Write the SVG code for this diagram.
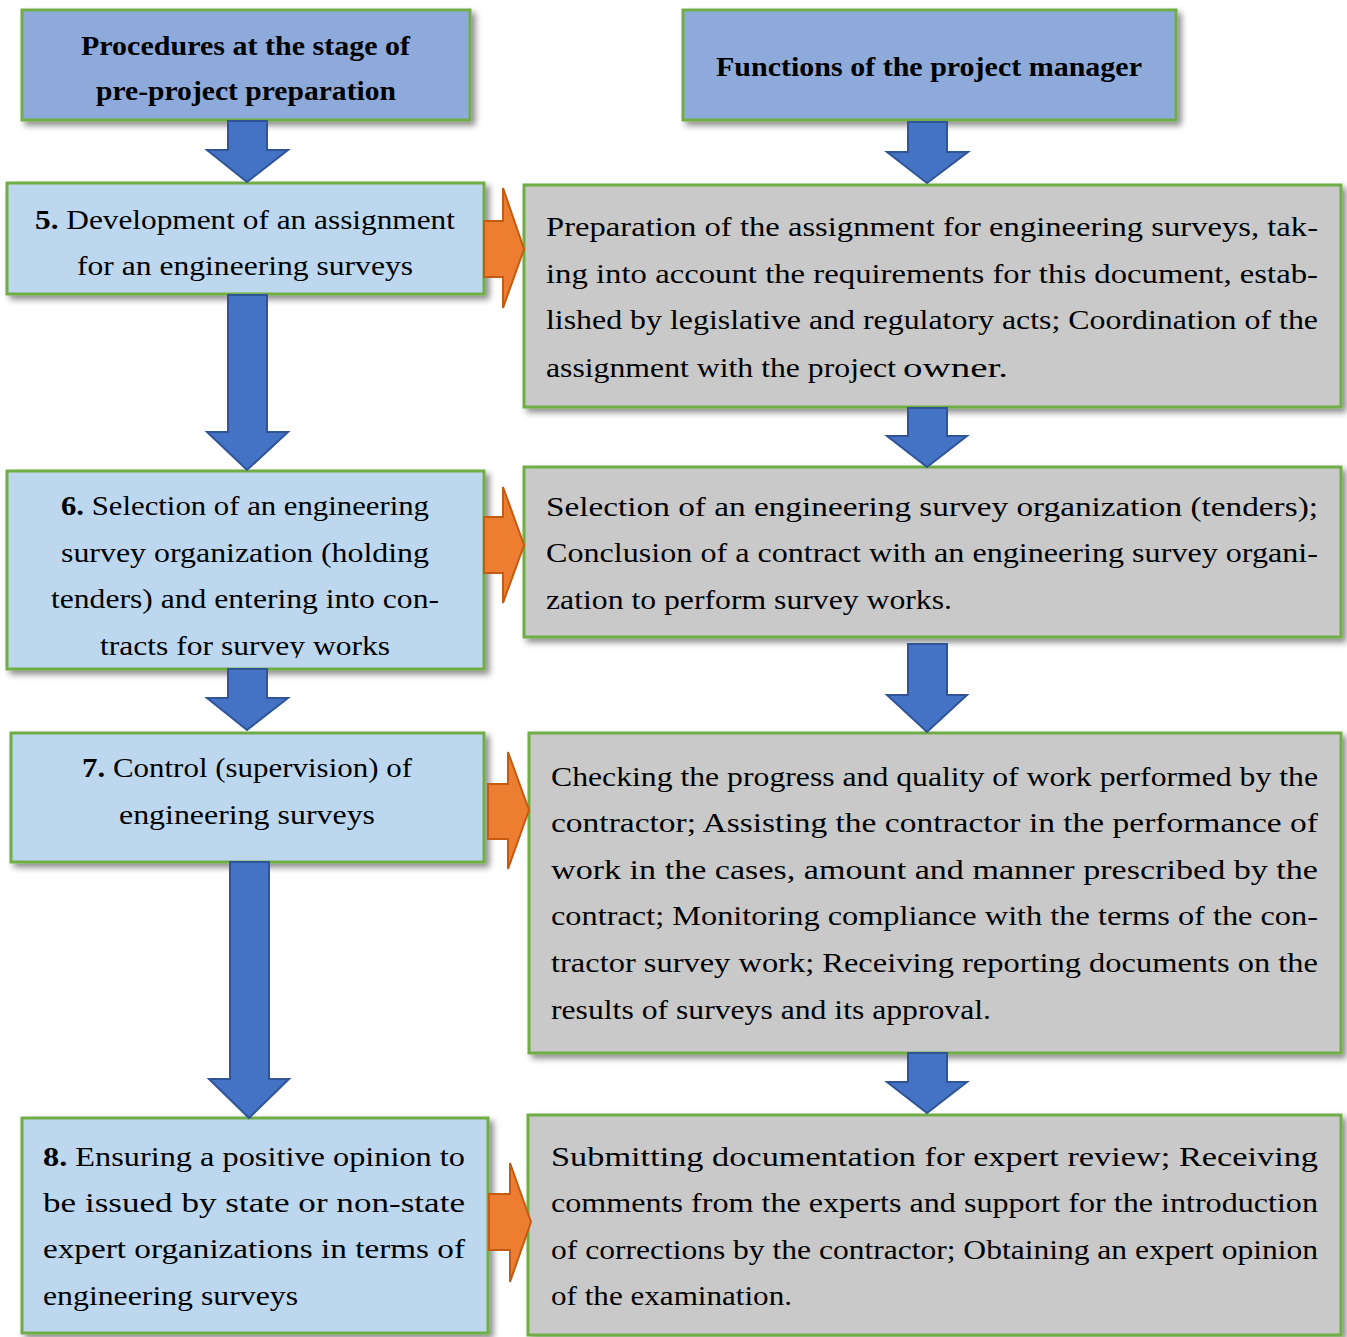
<svg xmlns="http://www.w3.org/2000/svg" width="1347" height="1337" viewBox="0 0 1347 1337">
<defs>
<filter id="sh" x="-5%" y="-5%" width="115%" height="120%">
<feDropShadow dx="4" dy="4" stdDeviation="3" flood-color="#000" flood-opacity="0.45"/>
</filter>
<clipPath id="clip6"><rect x="7" y="471" width="477" height="187"/></clipPath>
</defs>
<style>
.hdr{fill:#8eaadb;stroke:#70ad47;stroke-width:3}
.lb{fill:#bdd7ee;stroke:#70ad47;stroke-width:3}
.gb{fill:#c9c9c9;stroke:#70ad47;stroke-width:3}
.ba{fill:#4472c4;stroke:#2f5597;stroke-width:2;stroke-linejoin:miter}
.oa{fill:#ed7d31;stroke:#c55a11;stroke-width:2;stroke-linejoin:miter}
text{font-family:"Liberation Serif","Times New Roman",serif;font-size:27px;fill:#000}
.h{font-weight:bold;font-size:27px}
.b{font-weight:bold}
</style>
<rect width="1347" height="1337" fill="#fff"/>

<g id="node-header-left">
<rect class="hdr" x="22" y="10" width="448" height="110" filter="url(#sh)"/>
<text class="h" x="81" y="55" textLength="329" lengthAdjust="spacingAndGlyphs">Procedures at the stage of</text>
<text class="h" x="96" y="100" textLength="300" lengthAdjust="spacingAndGlyphs">pre-project preparation</text>
</g>
<g id="node-header-right">
<rect class="hdr" x="683" y="10" width="493" height="110" filter="url(#sh)"/>
<text class="h" x="716" y="76" textLength="426" lengthAdjust="spacingAndGlyphs">Functions of the project manager</text>
</g>

<g id="node-5">
<rect class="lb" x="7" y="183" width="477" height="111" filter="url(#sh)"/>
<text x="35" y="229" textLength="420" lengthAdjust="spacingAndGlyphs"><tspan class="b">5.</tspan> Development of an assignment</text>
<text x="77" y="275" textLength="336" lengthAdjust="spacingAndGlyphs">for an engineering surveys</text>
</g>
<g id="node-6">
<rect class="lb" x="7" y="471" width="477" height="198" filter="url(#sh)"/>
<g clip-path="url(#clip6)">
<text x="61" y="515" textLength="368" lengthAdjust="spacingAndGlyphs"><tspan class="b">6.</tspan> Selection of an engineering</text>
<text x="61" y="562" textLength="368" lengthAdjust="spacingAndGlyphs">survey organization (holding</text>
<text x="51" y="608" textLength="388" lengthAdjust="spacingAndGlyphs">tenders) and entering into con-</text>
<text x="100" y="655" textLength="290" lengthAdjust="spacingAndGlyphs">tracts for survey works</text>
</g>
</g>
<g id="node-7">
<rect class="lb" x="11" y="733" width="473" height="129" filter="url(#sh)"/>
<text x="82" y="777" textLength="330" lengthAdjust="spacingAndGlyphs"><tspan class="b">7.</tspan> Control (supervision) of</text>
<text x="119" y="824" textLength="256" lengthAdjust="spacingAndGlyphs">engineering surveys</text>
</g>
<g id="node-8">
<rect class="lb" x="22" y="1118" width="466" height="215" filter="url(#sh)"/>
<text x="43" y="1166" textLength="422" lengthAdjust="spacingAndGlyphs"><tspan class="b">8.</tspan> Ensuring a positive opinion to</text>
<text x="43" y="1212" textLength="422" lengthAdjust="spacingAndGlyphs">be issued by state or non-state</text>
<text x="43" y="1258" textLength="422" lengthAdjust="spacingAndGlyphs">expert organizations in terms of</text>
<text x="43" y="1305" textLength="255" lengthAdjust="spacingAndGlyphs">engineering surveys</text>
</g>

<g id="node-r1">
<rect class="gb" x="524" y="185" width="817" height="222" filter="url(#sh)"/>
<text x="546" y="236" textLength="772" lengthAdjust="spacingAndGlyphs">Preparation of the assignment for engineering surveys, tak-</text>
<text x="546" y="283" textLength="772" lengthAdjust="spacingAndGlyphs">ing into account the requirements for this document, estab-</text>
<text x="546" y="329" textLength="772" lengthAdjust="spacingAndGlyphs">lished by legislative and regulatory acts; Coordination of the</text>
<text x="546" y="377" textLength="350" lengthAdjust="spacingAndGlyphs">assignment with the project</text>
<text x="903" y="377" font-size="32" textLength="105" lengthAdjust="spacingAndGlyphs">owner.</text>
</g>
<g id="node-r2">
<rect class="gb" x="524" y="467" width="817" height="170" filter="url(#sh)"/>
<text x="546" y="516" textLength="772" lengthAdjust="spacingAndGlyphs">Selection of an engineering survey organization (tenders);</text>
<text x="546" y="562" textLength="772" lengthAdjust="spacingAndGlyphs">Conclusion of a contract with an engineering survey organi-</text>
<text x="546" y="609" textLength="406" lengthAdjust="spacingAndGlyphs">zation to perform survey works.</text>
</g>
<g id="node-r3">
<rect class="gb" x="529" y="733" width="812" height="320" filter="url(#sh)"/>
<text x="551" y="786" textLength="767" lengthAdjust="spacingAndGlyphs">Checking the progress and quality of work performed by the</text>
<text x="551" y="832" textLength="767" lengthAdjust="spacingAndGlyphs">contractor; Assisting the contractor in the performance of</text>
<text x="551" y="879" textLength="767" lengthAdjust="spacingAndGlyphs">work in the cases, amount and manner prescribed by the</text>
<text x="551" y="925" textLength="767" lengthAdjust="spacingAndGlyphs">contract; Monitoring compliance with the terms of the con-</text>
<text x="551" y="972" textLength="767" lengthAdjust="spacingAndGlyphs">tractor survey work; Receiving reporting documents on the</text>
<text x="551" y="1019" textLength="440" lengthAdjust="spacingAndGlyphs">results of surveys and its approval.</text>
</g>
<g id="node-r4">
<rect class="gb" x="528" y="1115" width="813" height="220" filter="url(#sh)"/>
<text x="551" y="1166" textLength="767" lengthAdjust="spacingAndGlyphs">Submitting documentation for expert review; Receiving</text>
<text x="551" y="1212" textLength="767" lengthAdjust="spacingAndGlyphs">comments from the experts and support for the introduction</text>
<text x="551" y="1259" textLength="767" lengthAdjust="spacingAndGlyphs">of corrections by the contractor; Obtaining an expert opinion</text>
<text x="551" y="1305" textLength="241" lengthAdjust="spacingAndGlyphs">of the examination.</text>
</g>

<g id="connectors">
<polygon class="ba" points="228,121 267,121 267,150 288,150 247,182 207,150 228,150"/>
<polygon class="ba" points="908,122 947,122 947,152 968,152 927,183 887,152 908,152"/>
<polygon class="ba" points="228,295 267,295 267,432 288,432 247,470 207,432 228,432"/>
<polygon class="ba" points="908,408 947,408 947,436 967,436 927,467 887,436 908,436"/>
<polygon class="ba" points="228,669 267,669 267,698 288,698 247,730 207,698 228,698"/>
<polygon class="ba" points="908,644 947,644 947,695 967,695 927,732 887,695 908,695"/>
<polygon class="ba" points="230,862 269,862 269,1079 289,1079 249,1118 209,1079 230,1079"/>
<polygon class="ba" points="908,1053 947,1053 947,1082 967,1082 927,1113 887,1082 908,1082"/>
<polygon class="oa" points="484,221 503,221 503,188 524,249 503,308 503,277 484,277"/>
<polygon class="oa" points="484,517 503,517 503,487 524,545 503,603 503,573 484,573"/>
<polygon class="oa" points="488,784 508,784 508,752 529,810 508,869 508,839 488,839"/>
<polygon class="oa" points="489,1194 510,1194 510,1163 531,1222 510,1282 510,1250 489,1250"/>
</g>
</svg>
